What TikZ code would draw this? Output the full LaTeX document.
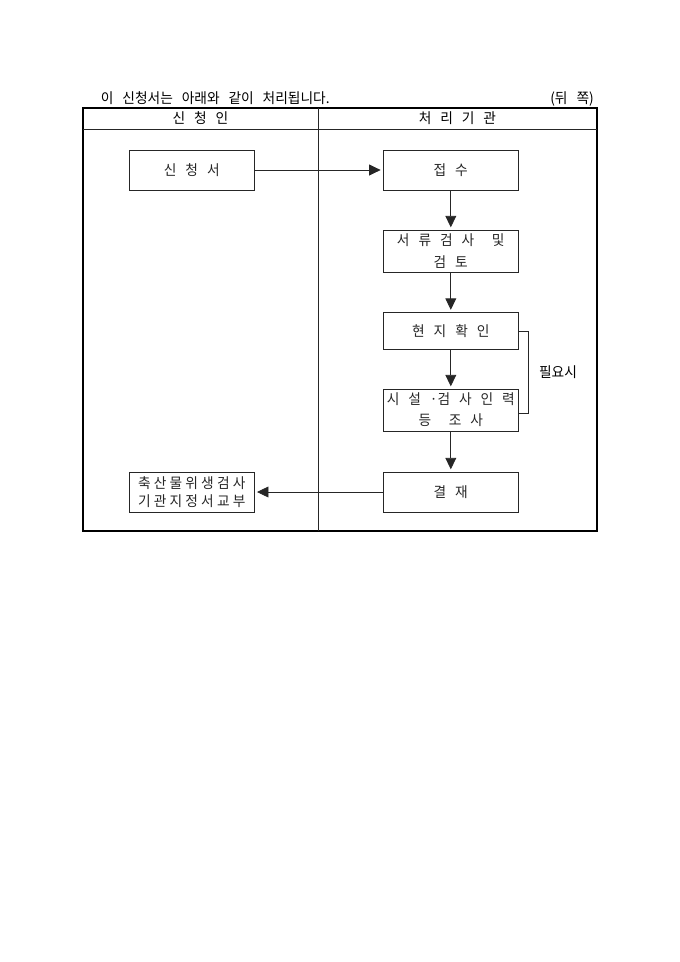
\documentclass[tikz,border=0pt]{standalone}
\usepackage{fontspec}
\usetikzlibrary{arrows.meta}
\newfontfamily\kr[WordSpace=2.9, FakeStretch=0.96]{Noto Sans CJK KR}
\newfontfamily\krsp[LetterSpace=22, FakeStretch=0.96]{Noto Sans CJK KR}
\tikzset{
	rule/.style={line width=0.7pt, color=black!85},
	label/.style={inner sep=0pt, font=\kr\fontsize{12.5}{18}\selectfont},
	box/.style={draw, rule, minimum width=135*0.875pt, minimum height=40*0.875pt, inner sep=0pt, align=center, font=\kr\fontsize{12.5}{18.6}\selectfont},
	flow/.style={rule, -{Triangle[length=10pt,width=9.5pt]}, shorten >=2pt},
}

\begin{document}
\begin{tikzpicture}[x=0.875pt, y=-0.875pt]
		%%%%% START %%%%%
		\useasboundingbox (0,0) rectangle (680,962);
		
		\node[label, anchor=west] (head) at (100.7,98.5) {이 신청서는 아래와 같이 처리됩니다.};
		\node[label, anchor=east] (side) at (594,98.5) {(뒤 쪽)};
		
		\draw[line width=1.5pt] (82.7,108.3) rectangle (596.7,530.7);
		\draw[rule] (82.7,129.3) -- (596.7,129.3);
		\draw[rule] (318,108.3) -- (318,530.7);
		
		\node[label] (colA) at (200.5,118.5) {신 청 인};
		\node[label] (colB) at (457.5,118.5) {처 리 기 관};
		
		\node[box, minimum width=125*0.875pt] (app) at (191.8,170) {신 청 서};
		\node[box] (recv) at (450.8,170) {접 수};
		\node[box, minimum height=42*0.875pt] (review) at (450.8,251) {서 류 검 사 \ 및\\검 토};
		\node[box, minimum height=37*0.875pt] (site) at (450.8,331) {현 지 확 인};
		\node[box, minimum height=42*0.875pt] (survey) at (450.8,410) {시 설 ·검 사 인 력\\등 \ 조 사};
		\node[box] (approve) at (450.8,492) {결 재};
		\node[box, minimum width=125*0.875pt, font=\krsp\fontsize{12.5}{15.5}\selectfont] (issue) at (191.8,492) {축산물위생검사\\기관지정서교부};
		
		\draw[flow] (app.east) -- (recv.west);
		\draw[flow] (recv) -- (review);
		\draw[flow] (review) -- (site);
		\draw[flow] (site) -- (survey);
		\draw[flow] (survey) -- (approve);
		\draw[flow] (approve.west) -- (issue.east);
		
		\draw[rule] (site.east) -- ++(10,0) |- ([yshift=-2.6pt]survey.east);
		\node[label] (need) at (558,372) {필요시};
		
		%%%%% END %%%%%
	\end{tikzpicture}
\end{document}
